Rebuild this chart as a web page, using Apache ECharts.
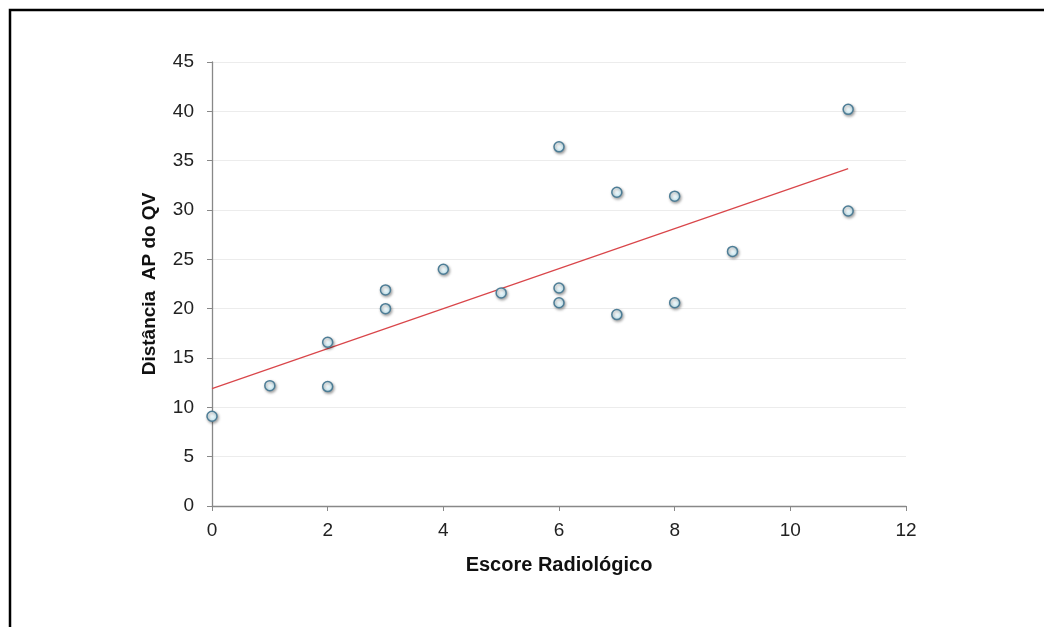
<!DOCTYPE html>
<html>
<head>
<meta charset="utf-8">
<script src="https://cdn.jsdelivr.net/npm/echarts@6/dist/echarts.min.js"></script>
<style>
html,body{margin:0;padding:0;background:#fff;}
#chart{width:1044px;height:627px;}
</style>
</head>
<body>
<div id="chart"></div>
<script>
var escoreX = [0, 1, 2, 2, 3, 3, 4, 5, 6, 6, 6, 7, 7, 8, 8, 9, 11, 11];
var distanciaY = [9.1, 12.2, 16.6, 12.1, 21.9, 20.0, 24.0, 21.6, 36.4, 22.1, 20.6, 31.8, 19.4, 31.4, 20.6, 25.8, 40.2, 29.9];
var trendX = [0, 11];
var trendY = [11.9, 34.2];
var xAxisName = 'Escore Radiológico';
var yAxisName = 'Distância  AP do QV';

var points = escoreX.map(function (x, i) { return [x, distanciaY[i]]; });
var trend = trendX.map(function (x, i) { return [x, trendY[i]]; });

var chart = echarts.init(document.getElementById('chart'));
var font = 'Liberation Sans, Arial, sans-serif';
chart.setOption({
  animation: false,
  backgroundColor: '#fff',
  graphic: [{
    type: 'rect',
    shape: { x: 10, y: 10, width: 1100, height: 700 },
    style: { fill: 'none', stroke: '#000', lineWidth: 2.5 },
    z: 100
  }],
  grid: { left: 212, right: 138, top: 62, bottom: 121 },
  xAxis: {
    type: 'value', min: 0, max: 12, interval: 2,
    name: xAxisName, nameLocation: 'middle', nameGap: 49,
    nameTextStyle: { fontFamily: font, fontWeight: 'bold', fontSize: 20, color: '#111' },
    axisLine: { lineStyle: { color: '#888', width: 1.3 } },
    axisTick: { show: true, length: 5, lineStyle: { color: '#888' } },
    axisLabel: { fontFamily: font, fontSize: 19, color: '#222', margin: 15 },
    splitLine: { show: false }
  },
  yAxis: {
    type: 'value', min: 0, max: 45, interval: 5,
    name: yAxisName, nameLocation: 'middle', nameGap: 53, nameRotate: 90,
    nameTextStyle: { fontFamily: font, fontWeight: 'bold', fontSize: 19, color: '#111' },
    axisLine: { show: true, lineStyle: { color: '#888', width: 1.3 } },
    axisTick: { show: true, length: 5, lineStyle: { color: '#888' } },
    axisLabel: { fontFamily: font, fontSize: 19, color: '#222', margin: 18 },
    splitLine: { show: true, lineStyle: { color: '#ececec', width: 1 } }
  },
  series: [{
    type: 'line',
    data: trend,
    symbol: 'none',
    lineStyle: { color: '#d9464a', width: 1.2 },
    z: 2
  }, {
    type: 'scatter',
    data: points,
    symbol: 'circle',
    symbolSize: 10,
    itemStyle: {
      color: {
        type: 'radial', x: 0.4, y: 0.35, r: 0.7,
        colorStops: [{ offset: 0, color: '#ffffff' }, { offset: 1, color: '#bfe4ef' }]
      },
      borderColor: '#4d7d96',
      borderWidth: 1.5,
      shadowBlur: 3,
      shadowOffsetX: 1,
      shadowOffsetY: 1.5,
      shadowColor: 'rgba(0,0,0,0.35)',
      opacity: 1
    },
    z: 3
  }]
});
</script>
</body>
</html>
